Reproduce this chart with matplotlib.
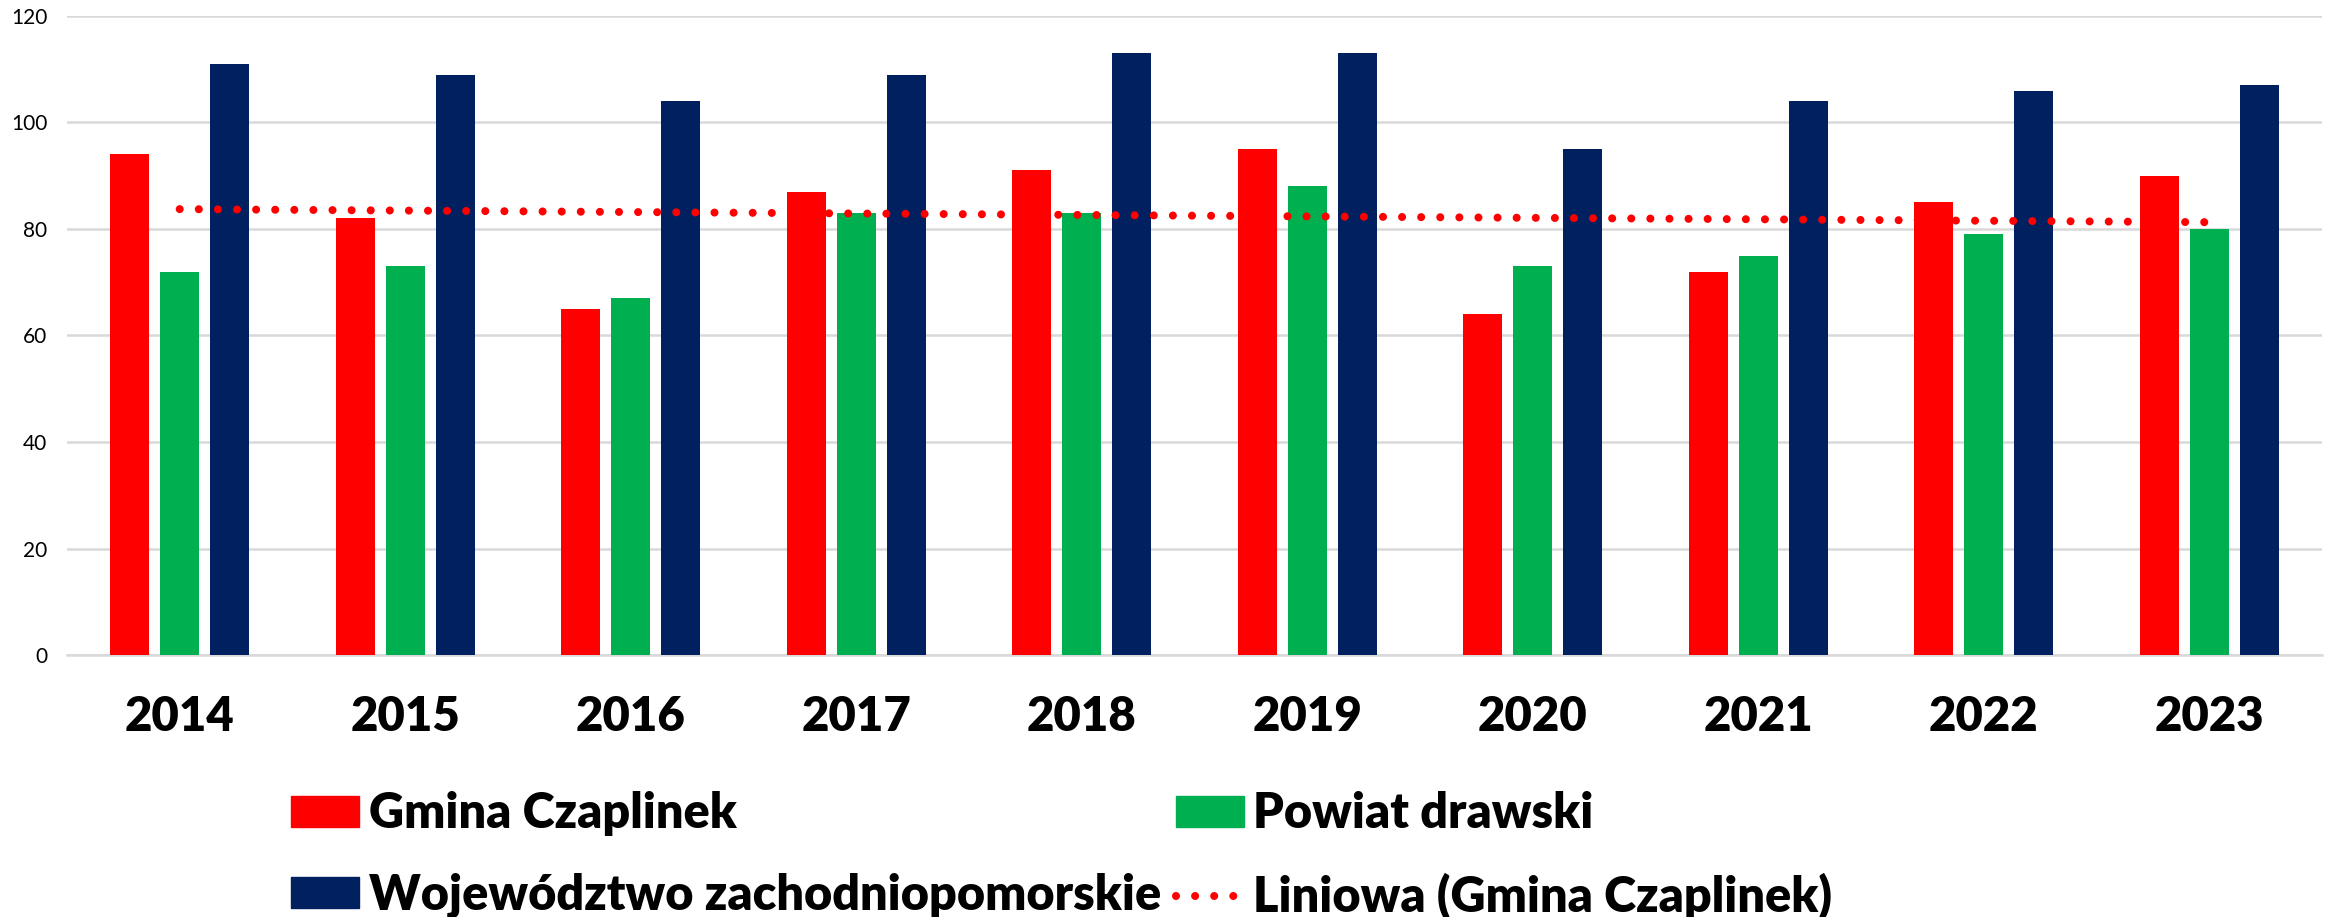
import numpy as np
import matplotlib.pyplot as plt
from matplotlib.patches import Patch
from matplotlib.lines import Line2D

plt.rcParams['font.family'] = ['Lato', 'DejaVu Sans']

# data
years = ['2014', '2015', '2016', '2017', '2018', '2019', '2020', '2021', '2022', '2023']
gmina = [94, 82, 65, 87, 91, 95, 64, 72, 85, 90]
powiat = [72, 73, 67, 83, 83, 88, 73, 75, 79, 80]
wojewodztwo = [111, 109, 104, 109, 113, 113, 95, 104, 106, 107]

labels = ['Gmina Czaplinek', 'Powiat drawski', 'Województwo zachodniopomorskie',
          'Liniowa (Gmina Czaplinek)']
colors = ['#ff0000', '#00b050', '#002060']

fig = plt.figure(figsize=(23.33, 9.17), dpi=100)
ax = fig.add_axes([0.0287, 0.2857, 0.9666, 0.6969])

x = np.arange(len(years))
w = 0.173
off = 0.222
ax.bar(x - off, gmina, w, color=colors[0], zorder=3)
ax.bar(x, powiat, w, color=colors[1], zorder=3)
ax.bar(x + off, wojewodztwo, w, color=colors[2], zorder=3)

# linear trend of Gmina Czaplinek
a, b = np.polyfit(x, gmina, 1)
ax.plot(x, a * x + b, color='#ff0000', lw=5.8, linestyle=(0, (0.001, 2.37)),
        dash_capstyle='round', zorder=4)

ax.set_xlim(-0.5, len(years) - 0.5)
ax.set_ylim(0, 120)
ax.set_yticks(range(0, 121, 20))
ax.yaxis.grid(True, color='#d9d9d9', lw=1.8, zorder=0)
ax.set_axisbelow(True)
for s in ['top', 'right', 'left']:
    ax.spines[s].set_visible(False)
ax.spines['bottom'].set_color('#d9d9d9')
ax.spines['bottom'].set_linewidth(1.8)

ax.set_xticks(x)
ax.set_xticklabels(years, fontsize=34, fontweight='heavy')
ax.tick_params(axis='x', length=0, pad=29)
ax.tick_params(axis='y', length=0, pad=14, labelsize=15)

handles = [Patch(color=colors[0]), Patch(color=colors[2]),
           Patch(color=colors[1]),
           Line2D([0], [0], color='#ff0000', lw=5.8, linestyle=(0, (0.001, 2.37)),
                  dash_capstyle='round')]
hl = [labels[0], labels[2], labels[1], labels[3]]
fig.legend(handles, hl, ncol=2, loc='upper left', bbox_to_anchor=(0.1247, 0.137),
           frameon=False, borderpad=0, borderaxespad=0,
           prop={'size': 35, 'weight': 'heavy'},
           handlelength=1.4, handleheight=0.6, handletextpad=0.2,
           columnspacing=0.3, labelspacing=0.75)

fig.savefig('out.png', dpi=100)
